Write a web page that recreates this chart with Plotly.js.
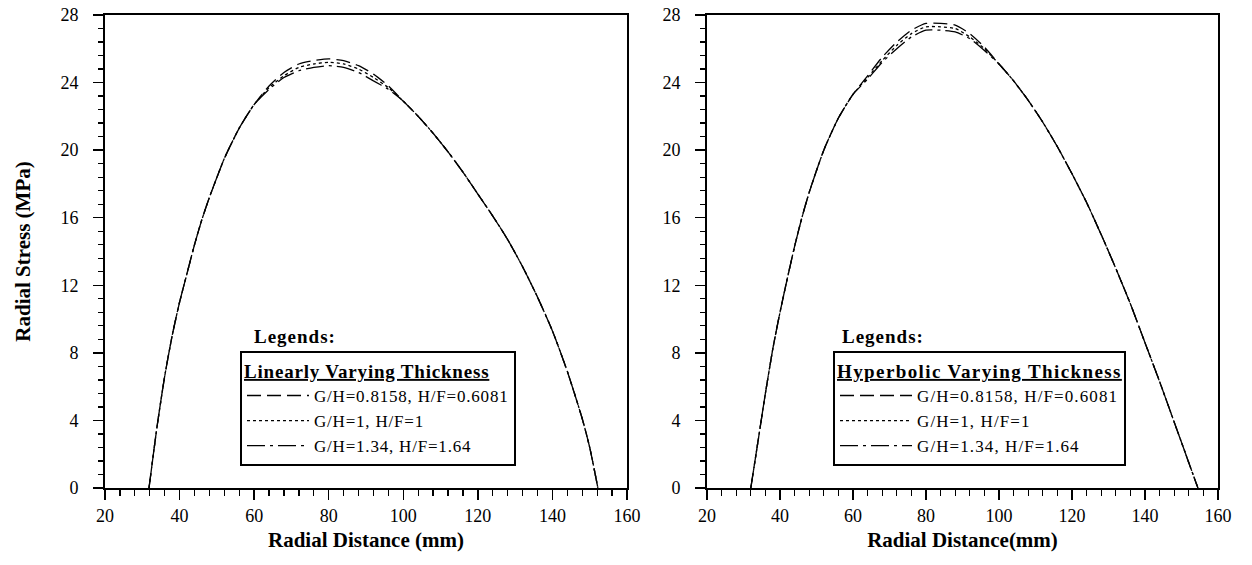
<!DOCTYPE html>
<html>
<head>
<meta charset="utf-8">
<script src="https://cdn.plot.ly/plotly-3.0.1.min.js"></script>
<style>html,body{margin:0;padding:0;background:#fff;}#chart{width:1252px;height:565px;}</style>
</head>
<body>
<div id="chart"></div>
<script>
// ---- Data ----
const radiusLinear = [31.8,34,36,38,40,42,44,46,48,52,56,60,64,68,72,76,80,84,88,92,96,100,104,108,112,116,120,124,128,132,136,140,144,148,150,152.2];
const linearGH08158 = [0,3.7,6.6,9.0,11.0,12.7,14.4,15.9,17.2,19.5,21.3,22.7,23.8,24.6,25.1,25.3,25.4,25.3,25.0,24.5,23.8,22.9,22.0,21.0,19.9,18.7,17.4,16.1,14.7,13.1,11.3,9.3,6.9,4.1,2.4,0];
const linearGH1     = [0,3.7,6.6,9.0,11.0,12.7,14.4,15.9,17.2,19.5,21.3,22.7,23.7,24.4,24.9,25.1,25.2,25.1,24.8,24.3,23.7,22.9,22.0,21.0,19.9,18.7,17.4,16.1,14.7,13.1,11.3,9.3,6.9,4.1,2.4,0];
const linearGH134   = [0,3.7,6.6,9.0,11.0,12.7,14.4,15.9,17.2,19.5,21.3,22.7,23.6,24.3,24.7,24.9,25.0,24.9,24.6,24.1,23.6,22.9,22.0,21.0,19.9,18.7,17.4,16.1,14.7,13.1,11.3,9.3,6.9,4.1,2.4,0];

const radiusHyper = [32,34,36,38,40,42,44,46,48,52,56,60,64,68,72,76,80,84,88,92,96,100,104,108,112,116,120,124,128,132,136,140,144,148,152,154.5];
const hyperGH08158 = [0,2.8,5.6,8.2,10.4,12.4,14.3,16.0,17.5,20.0,21.9,23.3,24.4,25.5,26.4,27.1,27.5,27.5,27.4,26.9,26.1,25.1,24.1,22.95,21.65,20.2,18.6,16.9,15.0,13.0,10.9,8.6,6.3,3.9,1.5,0];
const hyperGH1     = [0,2.8,5.6,8.2,10.4,12.4,14.3,16.0,17.5,20.0,21.9,23.3,24.3,25.3,26.2,26.9,27.3,27.3,27.2,26.7,26.0,25.1,24.1,22.95,21.65,20.2,18.6,16.9,15.0,13.0,10.9,8.6,6.3,3.9,1.5,0];
const hyperGH134   = [0,2.8,5.6,8.2,10.4,12.4,14.3,16.0,17.5,20.0,21.9,23.3,24.2,25.2,26.0,26.7,27.1,27.1,27.0,26.6,25.9,25.1,24.1,22.95,21.65,20.2,18.6,16.9,15.0,13.0,10.9,8.6,6.3,3.9,1.5,0];

const seriesNames = ['G/H=0.8158, H/F=0.6081', 'G/H=1, H/F=1', 'G/H=1.34, H/F=1.64'];
const xTickVals = [20,40,60,80,100,120,140,160];
const yTickVals = [0,4,8,12,16,20,24,28];

// ---- Styles ----
const SERIF = 'Liberation Serif, Times New Roman, serif';
const dashes = ['14px,6px', '3px,3px', '18px,5px,3px,5px'];

function spaced(t, px) { return '<span style="letter-spacing:' + px + 'px">' + t + '</span>'; }

function mk(x, y, i, xa, ya, lg, sp) {
  return {
    x: x, y: y, type: 'scatter', mode: 'lines', name: spaced(seriesNames[i], sp),
    xaxis: xa, yaxis: ya, legend: lg,
    line: {color: '#000', width: 1.3, dash: dashes[i], shape: 'spline', smoothing: 0.6}
  };
}

const traces = [
  mk(radiusLinear, linearGH08158, 0, 'x', 'y', 'legend', 0.8),
  mk(radiusLinear, linearGH1, 1, 'x', 'y', 'legend', 0.8),
  mk(radiusLinear, linearGH134, 2, 'x', 'y', 'legend', 0.8),
  mk(radiusHyper, hyperGH08158, 0, 'x2', 'y2', 'legend2', 1.1),
  mk(radiusHyper, hyperGH1, 1, 'x2', 'y2', 'legend2', 1.1),
  mk(radiusHyper, hyperGH134, 2, 'x2', 'y2', 'legend2', 1.1)
];

function xAxis(domain, anchor, title) {
  return {
    domain: domain, anchor: anchor, range: [20,160], tickvals: xTickVals,
    ticks: 'outside', ticklen: 10, tickwidth: 1.5, tickcolor: '#000',
    showline: true, linewidth: 2, linecolor: '#000', mirror: true,
    showgrid: false, zeroline: false, fixedrange: true,
    minor: {dtick: 4, tick0: 20, ticks: 'outside', ticklen: 6, tickwidth: 1.3, tickcolor: '#000', showgrid: false},
    tickfont: {family: SERIF, size: 18, color: '#000'},
    ticklabelstandoff: 0,
    title: {text: title, font: {family: SERIF, size: 21, color: '#000', weight: 'bold'}, standoff: 8}
  };
}
function yAxis(domain, anchor, title) {
  return {
    domain: domain, anchor: anchor, range: [0,28], tickvals: yTickVals,
    ticks: 'outside', ticklen: 10, tickwidth: 1.5, tickcolor: '#000',
    showline: true, linewidth: 2, linecolor: '#000', mirror: true,
    showgrid: false, zeroline: false, fixedrange: true,
    minor: {dtick: 0.8, tick0: 0, ticks: 'outside', ticklen: 5, tickwidth: 1.3, tickcolor: '#000', showgrid: false},
    tickfont: {family: SERIF, size: 18, color: '#000'},
    ticklabelstandoff: 11,
    title: {text: title, font: {family: SERIF, size: 21, color: '#000', weight: 'bold'}, standoff: 24}
  };
}

const legendBase = {
  xanchor: 'left', yanchor: 'bottom', y: 0.046,
  bgcolor: '#fff', bordercolor: '#000', borderwidth: 2,
  font: {family: SERIF, size: 17, color: '#000'},
  tracegroupgap: 0
};

const layout = {
  width: 1252, height: 565,
  margin: {l: 0, r: 0, t: 15, b: 77},
  paper_bgcolor: '#fff', plot_bgcolor: '#fff',
  showlegend: true,
  xaxis: xAxis([105/1252, 627/1252], 'y', '<b>Radial Distance (mm)</b>'),
  yaxis: yAxis([0,1], 'x', '<b>Radial Stress (MPa)</b>'),
  xaxis2: xAxis([707/1252, 1218/1252], 'y2', '<b>Radial Distance(mm)</b>'),
  yaxis2: yAxis([0,1], 'x2', ''),
  legend: Object.assign({}, legendBase, {x: 240/1252, itemwidth: 62,
    title: {text: '<b><u>' + spaced('Linearly Varying Thickness', 0.8) + '</u></b>', side: 'top', font: {family: SERIF, size: 19, color: '#000'}}}),
  legend2: Object.assign({}, legendBase, {x: 833/1252, itemwidth: 72,
    title: {text: '<b><u>' + spaced('Hyperbolic Varying Thickness', 1.4) + '</u></b>', side: 'top', font: {family: SERIF, size: 19, color: '#000'}}}),
  annotations: [
    {xref: 'paper', yref: 'paper', x: 252/1252, y: (488-337)/473, xanchor: 'left', yanchor: 'middle', showarrow: false,
     text: '<b>' + spaced('Legends:', 1) + '</b>', font: {family: SERIF, size: 19, color: '#000'}},
    {xref: 'paper', yref: 'paper', x: 840/1252, y: (488-337)/473, xanchor: 'left', yanchor: 'middle', showarrow: false,
     text: '<b>' + spaced('Legends:', 1) + '</b>', font: {family: SERIF, size: 19, color: '#000'}}
  ]
};

Plotly.newPlot('chart', traces, layout, {displayModeBar: false, staticPlot: true});
</script>
</body>
</html>
